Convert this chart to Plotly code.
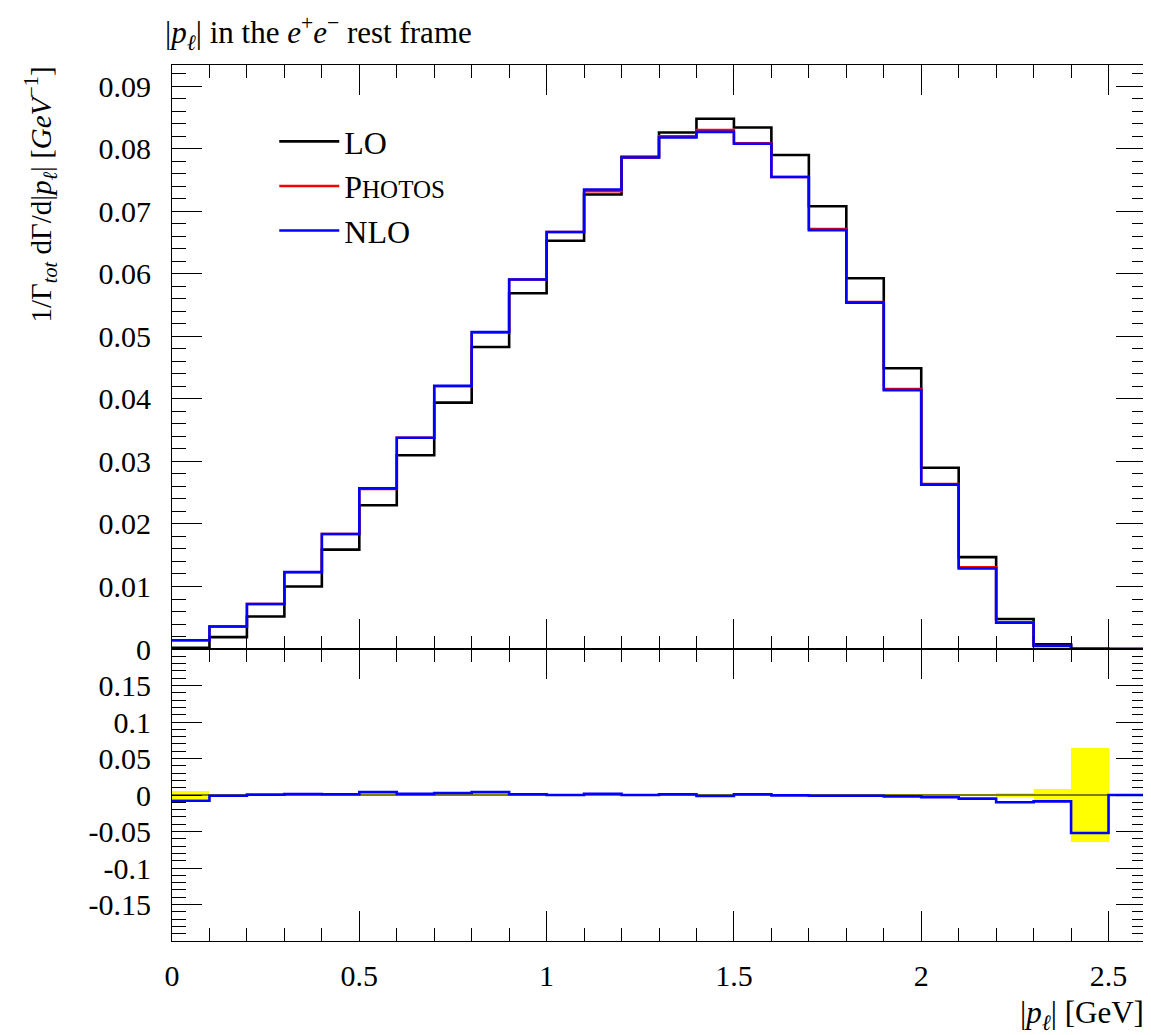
import plotly.graph_objects as go

# ---- data ----
edges = [0.0, 0.1, 0.2, 0.3, 0.4, 0.5, 0.6, 0.7, 0.8, 0.9, 1.0, 1.1, 1.2, 1.3,
         1.4, 1.5, 1.6, 1.7, 1.8, 1.9, 2.0, 2.1, 2.2, 2.3, 2.4, 2.5, 2.6]
centers = [0.05, 0.15, 0.25, 0.35, 0.45, 0.55, 0.65, 0.75, 0.85, 0.95, 1.05, 1.15, 1.25,
           1.35, 1.45, 1.55, 1.65, 1.75, 1.85, 1.95, 2.05, 2.15, 2.25, 2.35, 2.45, 2.55]
lo = [0.0002, 0.0019, 0.0052, 0.0100, 0.0159, 0.0230, 0.0310, 0.0394, 0.0483, 0.0569,
      0.0653, 0.0727, 0.0787, 0.0826, 0.0848, 0.0834, 0.0790, 0.0708, 0.0593, 0.0449,
      0.0290, 0.0147, 0.0048, 0.00075, 0.00005, 0.0]
photos = [0.0014, 0.0036, 0.0072, 0.0123, 0.0184, 0.0256, 0.0338, 0.0420, 0.0506, 0.0591,
          0.0667, 0.0732, 0.0786, 0.0820, 0.0830, 0.0809, 0.0755, 0.0672, 0.0555, 0.0416,
          0.0264, 0.0131, 0.0043, 0.0005, 0.00003, 0.0]
nlo = [0.0014, 0.0036, 0.0072, 0.0123, 0.0184, 0.0257, 0.0338, 0.0421, 0.0507, 0.0591,
       0.0667, 0.0735, 0.0786, 0.0818, 0.0827, 0.0808, 0.0755, 0.0670, 0.0554, 0.0414,
       0.0263, 0.0129, 0.0042, 0.0005, 0.00003, 0.0]
ratio = [-0.0078, -0.001, 0.0005, 0.0014, 0.001, 0.004, 0.0015, 0.0028, 0.004, 0.001,
         0.0, 0.0018, 0.0, 0.001, -0.0014, 0.001, -0.0005, -0.001, -0.001, -0.0018,
         -0.003, -0.005, -0.010, -0.0087, -0.052, 0.0]
band = [0.0060, 0.002, 0.0015, 0.0012, 0.0012, 0.0012, 0.0012, 0.0012, 0.0012, 0.0012,
        0.0012, 0.0012, 0.0012, 0.0012, 0.0012, 0.0012, 0.0012, 0.0012, 0.0012, 0.0014,
        0.0015, 0.002, 0.003, 0.008, 0.064, 0.0]

upper_ticks = [0, 0.01, 0.02, 0.03, 0.04, 0.05, 0.06, 0.07, 0.08, 0.09]
lower_ticks = [-0.15, -0.1, -0.05, 0, 0.05, 0.1, 0.15]
lower_labels = ["-0.15", "-0.1", "-0.05", "0", "0.05", "0.1", "0.15"]
x_ticks = [0, 0.5, 1, 1.5, 2, 2.5]

FONT = "Liberation Serif"


def step(vals):
    return vals + [vals[-1]]


fig = go.Figure()

# upper panel histograms
fig.add_trace(go.Scatter(x=edges, y=step(lo), mode="lines", line=dict(color="black", width=2.6, shape="hv"),
                         name="LO", xaxis="x", yaxis="y"))
fig.add_trace(go.Scatter(x=edges, y=step(photos), mode="lines", line=dict(color="red", width=2.4, shape="hv"),
                         name="P<span style='font-size:25px'>HOTOS</span>", xaxis="x", yaxis="y"))
fig.add_trace(go.Scatter(x=edges, y=step(nlo), mode="lines", line=dict(color="blue", width=2.6, shape="hv"),
                         name="NLO", xaxis="x", yaxis="y"))

# lower panel
fig.add_trace(go.Bar(x=centers, y=[2 * b for b in band], base=[-b for b in band], width=0.1,
                     marker=dict(color="yellow", line=dict(width=0)), showlegend=False,
                     xaxis="x2", yaxis="y2", hoverinfo="skip"))
fig.add_trace(go.Scatter(x=[edges[0], edges[-1]], y=[0, 0], mode="lines", line=dict(color="black", width=1.2),
                         showlegend=False, xaxis="x2", yaxis="y2"))
fig.add_trace(go.Scatter(x=edges, y=step(ratio), mode="lines", line=dict(color="blue", width=2.6, shape="hv"),
                         showlegend=False, xaxis="x2", yaxis="y2"))

axis_common = dict(showline=True, linecolor="black", linewidth=1, mirror="allticks",
                   ticks="inside", tickcolor="black", tickwidth=1, showgrid=False, zeroline=False,
                   automargin=False,
                   tickfont=dict(family=FONT, size=30, color="black"))

split = 0.3333

fig.update_layout(
    width=1151, height=1035,
    margin=dict(l=164, r=13, t=57, b=102),
    paper_bgcolor="white", plot_bgcolor="white",
    font=dict(family=FONT, color="black"),
    showlegend=True,
    bargap=0,
    legend=dict(x=0.105, y=0.944, xanchor="left", yanchor="top", bgcolor="rgba(0,0,0,0)",
                font=dict(family=FONT, size=32, color="black"), itemwidth=60, tracegroupgap=0),
    xaxis=dict(**axis_common, domain=[0, 1], range=[0, 2.6], anchor="y", tickvals=x_ticks,
               showticklabels=False, ticklen=30,
               minor=dict(dtick=0.1, ticks="inside", ticklen=13, tickcolor="black", tickwidth=1)),
    yaxis=dict(**axis_common, domain=[split, 1], range=[0, 0.0934], anchor="x", tickvals=upper_ticks,
               ticktext=[str(v) for v in upper_ticks], ticklen=30, ticklabelstandoff=14,
               minor=dict(dtick=0.002, ticks="inside", ticklen=14, tickcolor="black", tickwidth=1)),
    xaxis2=dict(**axis_common, domain=[0, 1], range=[0, 2.6], anchor="y2", tickvals=x_ticks,
                ticktext=["0", "0.5", "1", "1.5", "2", "2.5"], ticklen=30, ticklabelstandoff=8,
                minor=dict(dtick=0.1, ticks="inside", ticklen=13, tickcolor="black", tickwidth=1)),
    yaxis2=dict(**axis_common, domain=[0, split], range=[-0.2, 0.2], anchor="x2", tickvals=lower_ticks,
                ticktext=lower_labels, ticklen=30, ticklabelstandoff=14,
                minor=dict(dtick=0.01, ticks="inside", ticklen=14, tickcolor="black", tickwidth=1)),
)

fig.add_annotation(
    text="|<i>p</i><sub><i>ℓ</i></sub>| in the <i>e</i><sup>+</sup><i>e</i><sup>−</sup> rest frame",
    xref="paper", yref="paper", x=-0.009, y=1.036, xanchor="left", yanchor="middle",
    showarrow=False, font=dict(family=FONT, size=31, color="black"))

fig.add_annotation(
    text="1/Γ<sub><i>tot</i></sub> dΓ/d|<i>p</i><sub><i>ℓ</i></sub>| [<i>GeV</i><sup>−1</sup>]",
    xref="paper", yref="paper", x=-0.135, y=1.0, xanchor="center", yanchor="top", textangle=-90,
    showarrow=False, font=dict(family=FONT, size=29, color="black"))

fig.add_annotation(
    text="|<i>p</i><sub><i>ℓ</i></sub>| [GeV]",
    xref="paper", yref="paper", x=1.0, y=-0.084, xanchor="right", yanchor="middle",
    showarrow=False, font=dict(family=FONT, size=31, color="black"))

fig.write_html("out.html")
